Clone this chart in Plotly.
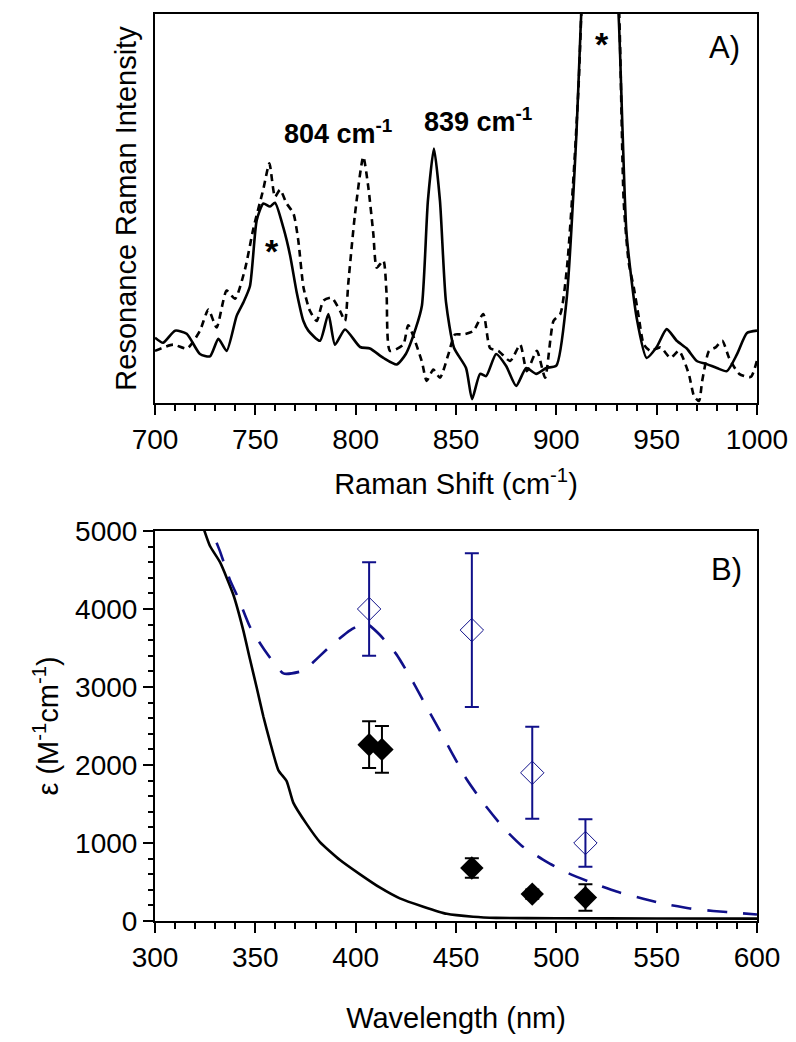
import plotly.graph_objects as go
from plotly.subplots import make_subplots

# ---------------- Panel A: resonance Raman spectra ----------------
raman_shift_solid = [700, 704, 710, 715.8, 722.4, 727.4, 731.6, 735.7, 740.7, 744, 747.3, 750.7, 754, 757.3,
                     759.8, 764, 767.3, 770.6, 774, 776.4, 782.2, 786.4, 789.7, 794.7, 802.2, 807.1, 813.8,
                     820.4, 825, 830, 833, 836, 839, 842, 845, 849, 855, 858, 862, 865, 870, 875, 880, 885,
                     890, 895, 900, 905, 910, 912, 916, 920, 924, 928, 931, 933, 935, 940, 945, 950, 955,
                     960, 965, 970, 975, 980, 985, 990, 995, 1000]
intensity_solid = [16.8, 15.5, 18.6, 17.8, 12.6, 12.0, 16.5, 13.4, 22.4, 25.8, 30.0, 47.0, 51.3, 50.5,
                   51.5, 45.0, 38.0, 28.5, 21.0, 18.6, 16.0, 22.9, 15.0, 18.9, 14.4, 14.0, 11.6,
                   9.9, 12.6, 19.3, 25.0, 52.0, 65.4, 52.0, 26.0, 14.2, 9.0, 1.0, 7.5, 6.9, 12.6, 9.5, 4.4, 9.0,
                   7.5, 9.0, 9.6, 26.0, 69.0, 95.0, 140.0, 160.0, 150.0, 120.0, 100.0, 70.0, 43.5, 22.0, 11.6, 14.4, 19.0,
                   16.0, 14.0, 10.8, 10.0, 9.0, 8.2, 12.5, 18.0, 18.6]

raman_shift_dashed = [700, 709, 716, 722.4, 726.6, 730.7, 735.7, 739.9, 744.9, 749, 754, 757, 759.8, 762.3,
                      765.6, 769, 771.4, 774, 777.2, 780.6, 783.9, 788, 792.2, 794.7, 796.3, 799.7, 803.8,
                      806.3, 808.8, 810.5, 813.8, 815.4, 817.1, 823.7, 826.2, 832.9, 835.4, 838.7, 842,
                      846.2, 849.5, 853.6, 858.6, 863.6, 867, 871.1, 877, 882, 885.3, 890.3, 894.4, 898.6,
                      902, 905.3, 908.6, 911.1, 914, 920, 926, 931, 933.6, 936.1, 938.6, 941.1, 943.6,
                      946.9, 951.9, 956.9, 961.1, 966, 968.6, 971.1, 972.7, 976.1, 979.4, 982.7, 986.1,
                      991.1, 996.9, 1000]
intensity_dashed = [13.4, 15.0, 14.0, 18.6, 24.0, 19.4, 28.9, 26.8, 34.5, 44.8, 55.0, 61.6, 53.0, 54.8,
                    51.3, 48.7, 41.8, 29.7, 23.7, 21.1, 26.3, 27.1, 23.7, 21.1, 30.6, 48.7, 63.3,
                    55.5, 43.5, 34.8, 36.6, 28.0, 13.4, 15.0, 20.0, 10.8, 5.7, 8.6, 6.5,
                    12.5, 17.6, 17.6, 18.5, 22.9, 14.1, 13.4, 10.8, 15.0, 8.2, 13.4, 6.5, 21.1,
                    22.9, 34.8, 58.5, 81.7, 120.0, 160.0, 140.0, 105.0, 51.5, 36.0, 29.7, 22.0, 15.0,
                    13.4, 14.3, 11.6, 13.4, 7.5, 1.8, 0.5, 5.7, 13.4, 14.3, 16.0, 11.6,
                    7.5, 6.7, 11.0]

# ---------------- Panel B: absorption / excitation profiles ----------------
wl_abs_solid = [321, 324, 327.4, 332.4, 339, 344, 347.3, 350.7, 354, 357.3, 361.5, 365.6, 368.9, 375.6,
                382.2, 392.2, 402.2, 412, 422, 433.7, 445.4, 458.5, 470, 500, 550, 600]
eps_abs_solid = [5300, 5050, 4807, 4600, 4186, 3726, 3358, 2990, 2622, 2300, 1932, 1794, 1518, 1242,
                 1012, 782, 598, 430, 290, 184, 92, 55, 40, 35, 32, 30]

wl_abs_dashed = [327, 329, 332.4, 337.4, 341.5, 347.3, 354, 364, 372.3, 375.6, 387.2, 397.2, 405, 412,
                 420.4, 428.7, 434.5, 442, 447.8, 455.3, 462.8, 473.6, 482.7, 495.2, 505.2, 518.4, 530,
                 543.3, 553.3, 566.6, 578.2, 591.5, 600]
eps_abs_dashed = [5300, 4968, 4738, 4370, 4140, 3772, 3496, 3174, 3197, 3243, 3519, 3726, 3820, 3670,
                  3415, 3059, 2783, 2438, 2162, 1817, 1541, 1196, 966, 759, 621, 483, 377,
                  286, 221, 161, 129, 101, 83]

wl_open = [406.7, 457.9, 488.0, 514.5]
eps_open = [4000, 3730, 1900, 1000]
err_open = [600, 985, 590, 305]

wl_filled = [406.7, 413.1, 457.9, 488.0, 514.5]
eps_filled = [2260, 2200, 680, 345, 300]
err_filled = [300, 300, 125, 60, 170]

FONT = "Liberation Sans, Arial, sans-serif"
NAVY = "#10108a"

fig = make_subplots(rows=2, cols=1, vertical_spacing=0.0)

fig.add_trace(go.Scatter(x=raman_shift_dashed, y=intensity_dashed, mode="lines",
                         line=dict(color="black", width=2.6, dash="7px,5px", shape="spline", smoothing=0.6),
                         showlegend=False),
              row=1, col=1)
fig.add_trace(go.Scatter(x=raman_shift_solid, y=intensity_solid, mode="lines",
                         line=dict(color="black", width=2.6, shape="spline", smoothing=0.6),
                         showlegend=False),
              row=1, col=1)

fig.add_trace(go.Scatter(x=wl_abs_solid, y=eps_abs_solid, mode="lines",
                         line=dict(color="black", width=2.6, shape="spline", smoothing=0.5),
                         showlegend=False),
              row=2, col=1)
fig.add_trace(go.Scatter(x=wl_abs_dashed, y=eps_abs_dashed, mode="lines",
                         line=dict(color=NAVY, width=2.6, dash="20px,16px", shape="spline", smoothing=0.5),
                         showlegend=False),
              row=2, col=1)
fig.add_trace(go.Scatter(x=wl_open, y=eps_open, mode="markers",
                         marker=dict(symbol="diamond-open", size=18, color=NAVY, line=dict(width=1, color=NAVY)),
                         error_y=dict(type="data", array=err_open, color=NAVY, thickness=2, width=7),
                         showlegend=False),
              row=2, col=1)
fig.add_trace(go.Scatter(x=wl_filled, y=eps_filled, mode="markers",
                         marker=dict(symbol="diamond", size=18, color="black"),
                         error_y=dict(type="data", array=err_filled, color="black", thickness=2, width=7),
                         showlegend=False),
              row=2, col=1)

axis_common = dict(showline=True, linewidth=2, linecolor="black", mirror=True,
                   ticks="outside", tickwidth=2, ticklen=10, tickcolor="black",
                   showgrid=False, zeroline=False,
                   tickfont=dict(family=FONT, size=28, color="black"))

fig.update_xaxes(range=[700, 1000], dtick=50, tick0=700,
                 minor=dict(ticks="outside", dtick=10, ticklen=6, tickwidth=2, tickcolor="black"),
                 title=dict(text="Raman Shift (cm<sup>-1</sup>)", font=dict(family=FONT, size=29, color="black"),
                            standoff=20),
                 **axis_common, row=1, col=1)
fig.update_yaxes(range=[0, 100], showline=True, linewidth=2, linecolor="black", mirror=True,
                 ticks="", showticklabels=False, showgrid=False, zeroline=False,
                 title=dict(text="Resonance Raman Intensity", font=dict(family=FONT, size=29, color="black"),
                            standoff=8),
                 row=1, col=1)

fig.update_xaxes(range=[300, 600], dtick=50, tick0=300,
                 minor=dict(ticks="outside", dtick=10, ticklen=6, tickwidth=2, tickcolor="black"),
                 title=dict(text="Wavelength (nm)", font=dict(family=FONT, size=29, color="black"),
                            standoff=36),
                 **axis_common, row=2, col=1)
fig.update_yaxes(range=[0, 5000], dtick=1000, tick0=0,
                 minor=dict(ticks="outside", dtick=200, ticklen=5, tickwidth=2, tickcolor="black"),
                 title=dict(text="ε (M<sup>-1</sup>cm<sup>-1</sup>)", font=dict(family=FONT, size=29, color="black"),
                            standoff=8),
                 **axis_common, row=2, col=1)

# subplot placement (figure is drawn inside the page body's 8px margin)
fig.update_layout(
    xaxis=dict(domain=[0, 1], automargin=False),
    yaxis=dict(domain=[0.5711, 1.0], automargin=False),
    xaxis2=dict(domain=[0, 1], automargin=False),
    yaxis2=dict(domain=[0.0, 0.430], automargin=False),
)

ann_font_bold = dict(family=FONT, size=27, color="black")
annotations = [
    dict(x=791, y=69.6, xref="x", yref="y", text="<b>804 cm<sup>-1</sup></b>", showarrow=False,
         font=ann_font_bold, xanchor="center", yanchor="middle"),
    dict(x=861, y=72.7, xref="x", yref="y", text="<b>839 cm<sup>-1</sup></b>", showarrow=False,
         font=ann_font_bold, xanchor="center", yanchor="middle"),
    dict(x=758.3, y=39.0, xref="x", yref="y", text="<b>*</b>", showarrow=False,
         font=dict(family=FONT, size=34, color="black"), xanchor="center", yanchor="middle"),
    dict(x=922.8, y=92.3, xref="x", yref="y", text="<b>*</b>", showarrow=False,
         font=dict(family=FONT, size=34, color="black"), xanchor="center", yanchor="middle"),
    dict(x=983.8, y=91.4, xref="x", yref="y", text="A)", showarrow=False,
         font=dict(family=FONT, size=31, color="black"), xanchor="center", yanchor="middle"),
    dict(x=585, y=4500, xref="x2", yref="y2", text="B)", showarrow=False,
         font=dict(family=FONT, size=31, color="black"), xanchor="center", yanchor="middle"),
]

fig.update_layout(
    width=788, height=1026,
    margin=dict(l=147, r=39, t=6, b=113),
    paper_bgcolor="white", plot_bgcolor="white",
    font=dict(family=FONT, color="black"),
    annotations=annotations,
    showlegend=False,
)

fig.write_html("out.html")
